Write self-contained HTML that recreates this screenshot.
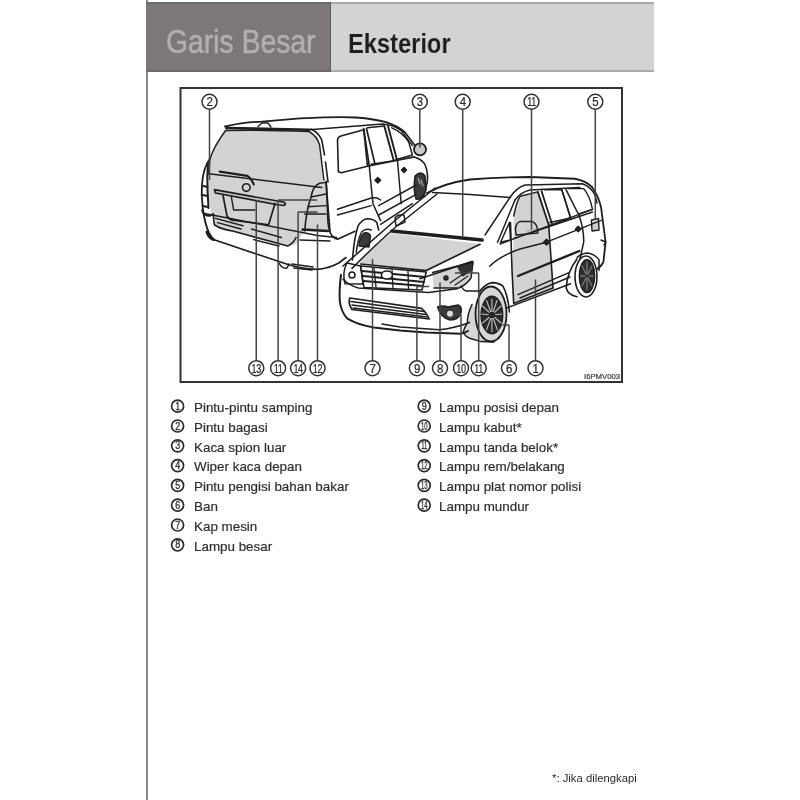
<!DOCTYPE html>
<html><head><meta charset="utf-8">
<style>
html,body{-webkit-font-smoothing:antialiased;margin:0;padding:0;background:#fff;width:800px;height:800px;overflow:hidden;font-family:"Liberation Sans",sans-serif;}
#pl{position:absolute;left:146px;top:0;width:2px;height:800px;background:#8c8c8c;}
#hd1{position:absolute;left:146px;top:2px;width:185px;height:70px;background:#7c7779;box-sizing:border-box;border-top:2px solid #6c6a6a;border-bottom:2px solid #6c6a6a;border-right:1px solid #5f5d5d;}
#hd2{position:absolute;left:331px;top:2px;width:323px;height:70px;background:#d3d3d3;box-sizing:border-box;border-top:2px solid #a9a9a9;border-bottom:2px solid #ababab;}
.t{position:absolute;white-space:nowrap;line-height:1;will-change:transform;}
#gb{left:166px;top:25px;font-size:33.8px;color:#b3afb0;transform-origin:0 0;transform:scaleX(0.838);-webkit-text-stroke:0.6px #b3afb0;}
#ek{left:348px;top:28.7px;font-size:28.5px;font-weight:bold;color:#1e1e1e;transform-origin:0 0;transform:scaleX(0.83);}
#svg{position:absolute;left:0;top:0;}
.li{will-change:transform;position:absolute;font-size:13.4px;color:#2e2e2e;-webkit-text-stroke:0.2px #2e2e2e;white-space:nowrap;line-height:1;}
#ft{left:552px;top:772.5px;font-size:11.3px;color:#2a2a2a;}
</style></head><body>
<div id="pl"></div>
<div id="hd1"></div>
<div id="hd2"></div>
<div class="t" id="gb">Garis Besar</div>
<div class="t" id="ek">Eksterior</div>
<svg id="svg" width="800" height="800" viewBox="0 0 800 800">
<rect x="180.5" y="88" width="441.5" height="294" fill="none" stroke="#333" stroke-width="2"/>
<g id="car" fill="none" stroke="#1e1e1e" stroke-width="1.45" stroke-linejoin="round" stroke-linecap="round">
<!-- fills -->
<g id="fills" stroke="none" fill="#d3d3d3">
<path d="M226 130 L309 131.5 Q318 137 320 150 L323.5 181 L319 183 Q313 188 310 197 L304.5 231 L296 244 L288 246 L232 231 Q216 228 214 223 L211 212 L208 190 L209.5 174 L210.5 159 Q216 143 226 130 Z"/>
<path d="M311 197 Q313 186 319.6 183.3 L327.5 182.25 L330 232 L303 231 Q306 212 311 197 Z"/>
<path d="M391.5 233 L480 244 L427 271.5 Q400 267 362 264 L358 262 Q372 247 391.5 233 Z"/>
<path d="M513.7 216 Q518 200 522 196.5 L537.8 191.9 L548.7 224.7 L513.7 235.6 Z"/>
<path d="M513.7 235.6 L548.7 225 L553 288 L513.7 303.4 L512 270 Z"/>
<path d="M432 272.5 Q450 268 473 262 L471 278 Q466 285 459 288 L434 288 Z"/>
<path d="M472 304.5 Q467 315 467.5 322.5 Q464 328 463 332.6 Q466 337 469.7 338.25 L481 341.6 L494 342 L478 310 Z" fill="#d6d6d6"/>
<ellipse cx="491" cy="314" rx="15.5" ry="27.5" fill="#d8d8d8"/>
<path d="M591.4 220 L598.5 218.5 L599 230 L592 231 Z" fill="#cfcfcf"/>
<circle cx="420" cy="149.4" r="6" fill="#c9c9c9" stroke="#1e1e1e" stroke-width="1.8"/>
<path d="M526 229.5 L536.5 228 L537 232.5 L526 233 Z" fill="#bcbcbc"/>
</g>
<!-- rear car lines -->
<g id="rc">
<path d="M225 126.5 Q245 122 262 121.7 L300 118.4 Q340 116.5 356 117.5 Q375 119 386 122.2 Q398 126 405 132.5 L414.3 144.7" stroke-width="1.8"/>
<path d="M309.4 129.7 L382.5 124 Q394 125 401.2 130.6 L412.4 145.6"/>
<path d="M226.5 128 L309 129.8" stroke-width="2.6"/><path d="M258 126.5 L262 123 L268 123 L271 127" stroke-width="1.4"/>
<path d="M226 130.5 Q260 129.5 309 131.5"/>
<path d="M226 130 Q214 146 210 159 L208.5 174"/>
<path d="M210 158.5 Q203 168 202 185 L201.7 195 L203 210 Q205 224 209 233 L213.4 239.6" stroke-width="1.8"/>
<path d="M208 162 Q207 175 207.5 190 L208.5 208" stroke-width="2"/>
<path d="M203 186 L207.5 187 M202.5 195 L207.5 196 M202.5 206 L208 207" stroke-width="1.8"/><path d="M202 210 Q203 216 210 216 L213 214" stroke-width="1.6"/>
<path d="M209 173.75 L321.75 187.5" stroke-width="1.5"/>
<path d="M219.75 171.6 L247.4 175.9 Q251 178 253.75 184.4" stroke-width="2.2"/>
<circle cx="246.3" cy="187.6" r="3.8" stroke-width="1.6"/>
<path d="M311 129 Q319 133 321.75 140 L324.5 155 M325.5 162 L328 182" stroke-width="1.6"/>
<path d="M309 131.5 Q317 136 319.6 145 L323.9 180"/>
<path d="M304.75 231 Q306 212 311 197 Q313 186 319.6 183.3 L326 182.25 L330 231" stroke-width="1.6"/>
<path d="M311 197 L326 194 M308 206.7 L326 205.6 M304.75 214 L326 214"/>
<path d="M302.6 229.5 L328 231" stroke-width="2.4"/>
<path d="M214.4 189.7 L283.5 202 Q287 203.5 284 205.5 L278.5 205 L215.5 193 Z" stroke-width="1.7" fill="#bfbfbf"/>
<path d="M223 195.5 L227 216 Q229 220 234.6 220.5 L268.6 224.75 L275 203.5" stroke-width="1.7"/>
<path d="M231.4 197 L233.6 210 L254.8 210"/>
<path d="M213.4 214 Q213.5 221 214.4 224.75 Q220 229 232.5 231 L287.75 246 Q293 244 296 237.5" stroke-width="1.6"/>
<path d="M215.5 218.4 L243 225.8 M217.6 222.6 L241 229 M251.6 229 L281.4 237.5 M253.75 239.6 L279 246"/>
<path d="M202.75 212 Q204 214 207 214 L317.5 235.4 L336.6 237.5" stroke-width="1.5"/>
<path d="M213.4 239.6 L283.5 263 Q300 269 317.5 269.4 Q330 268 338.75 263 L346 257.5" stroke-width="1.6"/>
<path d="M326.2 181.2 L328 222.4 Q329 232 331.9 235.6 Q334 238 337.5 239.3 L355 231.25" stroke-width="1.6"/>
<path d="M300 240 L330 241"/>
<path d="M207 232 Q209 238 213.5 239.5" stroke-width="3"/>
<path d="M279 263 Q282 269 287 268 L289 264" stroke-width="1.5"/>
<path d="M292 264 L313 267 M294 268 L312 270" stroke-width="1.7"/>
<!-- side -->
<path d="M338.4 171.8 L337.5 140 Q338 136.5 341 136 L363.7 129.7 L367.5 166.2 L341.2 172.8 Z" stroke-width="1.6"/>
<path d="M363.7 128.7 L369.3 166.2 M366.5 128.7 L375 164.3" stroke-width="1.7"/>
<path d="M367.5 127.8 L384.3 126 M371.2 164.3 L393.7 160.6"/>
<path d="M384.3 126 L393.7 160.6 M388 126 L397 160" stroke-width="1.9"/>
<path d="M391.8 127.8 Q402 132 408.7 141.9 L412.4 155 L395.6 159.7"/>
<path d="M367.5 166.2 L414.3 156.9" stroke-width="1.6"/>
<path d="M369.3 166.2 Q371 185 373 203.7 L380.6 220.6" stroke-width="1.5"/>
<path d="M397.5 160.6 L401.2 203.7"/>
<path d="M375 180.3 L377.8 177.5 L380.6 180.3 L377.8 183.1 Z M401.5 170 L404 167.5 L406.5 170 L404 172.5 Z" fill="#222"/>
<path d="M414.3 156.9 Q424 160 425.6 166.2 Q428 172 427.4 181.2 L423.7 196.2" stroke-width="1.6"/>
<path d="M415 176 Q421 170 425 176 L426 190 Q422 201 416 199 Q413 190 415 176 Z" fill="#3a3a3a"/><path d="M418 178 L420 184 M421 180 L423 186" stroke="#aaa" stroke-width="1.2"/>
<path d="M337.5 209.3 L371.2 198 Q377 197 380.6 200 M337.5 215 L371.2 205.6"/>
<path d="M378.7 205.6 L416.2 185 M378.7 215 L416.2 194.3 M380.6 224.3 L412.4 203.7" stroke-width="1.5"/>
<path d="M352.5 260 Q354 238 358 226.2 Q362 219 367.5 218.7 Q374 219 376.8 222.4 L378.7 230" stroke-width="1.6"/>
<path d="M356.2 252.4 Q358 238 361.8 231.8 Q366 228 371.2 230"/>
<path d="M359 246 Q360 236 364 233 Q369 232 370.5 236 L369 247 Z" fill="#3a3a3a"/>
</g>
<!-- front car lines -->
<g id="fc">
<path d="M427 193 Q445 183 470 179.5 Q500 177 530 177 L575 178.75 Q586 181 592 187 Q598 195 601 207 L605.6 242 L603.4 262 Q600 269 592.5 270.6" stroke-width="1.8"/>
<path d="M432.5 192.5 L470 194.5 L510 197.5" stroke-width="1.5"/>
<path d="M510 197.5 Q516 188 525 185 L582.5 183.75 Q591 187 595 195 L597 203" stroke-width="1.5"/><path d="M515 200 Q521 192 530 190 L580 187.5"/>
<path d="M510 197.5 L485 235 M515 200 L497.5 242.5" stroke-width="1.5"/>
<path d="M392 231 L482 240" stroke-width="3.6"/>
<path d="M343 266 Q368 244 395.6 220 L435 188" stroke-width="1.6"/>
<path d="M352 268.4 Q372 248 395.6 227 L437 194" stroke-width="1.5"/>
<path d="M395 218 Q398 214 404 215 L405 222 L396 226 Z"/>
<path d="M513.7 216 Q517 200 520.3 196.2 L537.8 191.9"/>
<path d="M537.8 191.9 L548.7 224.7 M541.5 191 L552 224" stroke-width="1.8"/>
<path d="M500.6 242.2 L509.4 222.5 L510.5 240 Z"/>
<path d="M516 234 Q514 224 520 221.4 L532 221.4 Q538 224 537.8 233 L516 235 Z" stroke-width="1.5"/>
<path d="M510.5 222.5 L512 270 L513.7 303.4 L553 288" stroke-width="1.6"/>
<path d="M548.7 224.7 L553 288" stroke-width="1.6"/>
<path d="M544.3 189.7 L561.8 189.7 L570.6 218 L549.8 222.5"/>
<path d="M561.8 189.7 L570.6 218 M566 189.7 L579.3 216" stroke-width="1.5"/>
<path d="M568.4 188.6 L583.7 188.6 Q590 196 592.5 209.4 L579.3 213.7"/>
<path d="M500 244 L592.5 209.4 M513.7 238.5 L592.5 212" stroke-width="1.4"/>
<path d="M489.7 266.2 Q500 256 520 249 L546.5 242.2 L601.2 220.3"/>
<path d="M579.3 216 Q584 230 583.7 242.2 L579.3 261.8" stroke-width="1.5"/>
<path d="M543.5 242.2 L546.5 239.4 L549.5 242.2 L546.5 245 Z M575.4 229 L578.2 226.2 L581 229 L578.2 231.8 Z" fill="#222"/>
<path d="M518 276 L579.3 251" stroke-width="2.4"/>
<path d="M518 294.6 L568.4 272.8 M520 298 L570 277"/>
<path d="M507.2 307.8 L570.6 283.7" stroke-width="1.5"/>
<path d="M591.4 220 L598.5 218.5 L599 230 L592 231 Z" stroke-width="1.4"/>
<path d="M601 240 L605.6 242 L604 245"/>
<path d="M577 257.5 Q582 253 588 253 Q596 255 599 259.7 L599 270.6" stroke-width="1.5"/>
<ellipse cx="586" cy="276.5" rx="11" ry="20.5" fill="#fff" stroke-width="1.6"/>
<ellipse cx="587" cy="276" rx="7.7" ry="16.4" fill="#2e2e2e"/><path d="M587 276 L587 262 M587 276 L592 266 M587 276 L593.5 276 M587 276 L592 286 M587 276 L587 290 M587 276 L582 286 M587 276 L580.5 276 M587 276 L582 266" stroke="#9a9a9a" stroke-width="0.9"/><circle cx="587" cy="276" r="1.8" fill="#2e2e2e" stroke="none"/>
<path d="M577 259 Q567 272 566.2 288 Q568 295 577 296.8" stroke-width="1.6"/>
<path d="M478.7 292.5 Q485 284 491.9 282.6 Q499 283 502.8 285.9 Q508 295 509.4 312" stroke-width="1.6"/>
<ellipse cx="491" cy="314" rx="15.5" ry="27.5" stroke-width="1.8"/>
<ellipse cx="491.9" cy="315" rx="10.8" ry="18.75" fill="#2a2a2a"/>
<g stroke="#bdbdbd" stroke-width="1.1">
<path d="M491.9 315 L491.9 299 M491.9 315 L497 300.5 M491.9 315 L501 306 M491.9 315 L502 314 M491.9 315 L501 323 M491.9 315 L497.5 330 M491.9 315 L491.9 332 M491.9 315 L486.5 330 M491.9 315 L482.5 323 M491.9 315 L481.5 314 M491.9 315 L482.5 306 M491.9 315 L486.5 300.5"/>
</g>
<circle cx="491.9" cy="315" r="2.5" fill="#2a2a2a"/>
<path d="M472 304.5 Q467 315 467.5 322.5 Q464 328 463 332.6 Q466 337 469.7 338.25 L481 341.6 L494 342" stroke-width="1.5"/>

<path d="M360.6 264 L426.2 270.6 L480 244.3" stroke-width="1.7"/>
<path d="M420 278.75 L472.5 261.25"/>
<path d="M345 283.7 Q342 272 347 263 L360.6 266 L363 284 Z" stroke-width="1.5"/>
<circle cx="352" cy="275" r="3"/>
<path d="M360.6 266 L426.2 272 L422 290 L364 287.5 Z" stroke-width="1.6"/>
<path d="M362 271 L425 277 M363 276 L424 282 M363.5 281 L423 286" stroke-width="1.9"/>
<path d="M374 268 L376 287 M392 270 L393 289 M408 271 L408.5 289" stroke-width="1.3"/>
<ellipse cx="386.9" cy="275" rx="5.5" ry="4" fill="#fff" stroke-width="1.6"/>
<path d="M341 275 Q339 290 339.8 301 Q341 312 347.5 318.7 Q358 325 373.7 327.4 L400 330.4 L425.9 332.6 L460.75 333.75 Q465 333 468 331" stroke-width="2"/>
<path d="M382 324 L400 327 L439.4 329.8 Q455 328 469.7 322.5" stroke-width="1.5"/>
<path d="M343 279.3 Q350 286 358.4 288 L428.4 292.5 L457.5 288.75"/>
<path d="M461 286 Q463 290 466 291 L480 291"/>
<path d="M349.7 298 L421.4 308.4 Q426 312 429.25 319 L352 309.5 Q348 304 349.7 298 Z" stroke-width="1.7"/>
<path d="M351 301.5 L424 311.5 M352 305 L426 314.5 M353 308 L427 317" stroke-width="1.4"/>

<path d="M437.5 307 Q443 305 448 307 L458 305 Q462 306 461.25 312 Q459 320 450 320 Q441 318 437.5 307 Z" fill="#3a3a3a" stroke-width="1.4"/>
<circle cx="450" cy="313.75" r="3" fill="#ddd" stroke="none"/>
<path d="M432.5 272.5 L473 262 L471 278 Q466 285 459 288 L434 288" stroke-width="1.5"/>
<path d="M458 267 L473 262.5 L472 270 L463 276 Z" fill="#333" stroke-width="1"/><path d="M450 283 L466 272 M455 285 L468 276" stroke-width="1.2"/>
<circle cx="446" cy="278" r="2" fill="#333"/>

</g>
</g>
<g id="callouts">
<path d="M209.5 109.25 L209.5 180 M419.8 109.25 L419.8 147.5 M462.7 109.25 L462.7 236 M531.5 109.25 L531.5 229.4 M595.3 109.25 L595.3 220 M256.25 360.7 L256.25 200 M278.1 360.7 L278.1 200 M278.1 200 L317 200 M298.1 360.7 L298.1 211.9 M298.1 211.9 L317.5 211.9 M317.5 360.7 L317.5 224.4 M372.5 360.7 L372.5 259 M416.9 360.7 L416.9 286.6 M416.9 286.6 L429.3 286.6 M440 360.7 L440 282.5 M461 360.7 L461 314.2 M461 314.2 L455.3 314.2 M478.7 360.7 L478.7 273 M478.7 273 L455 273 M509 360.7 L509 325 M509 325 L502.5 325 M535.5 360.7 L535.5 279.4" fill="none" stroke="#444" stroke-width="1.5"/>
<circle cx="209.5" cy="101.75" r="7.5" fill="#fff" stroke="#333" stroke-width="1.5"/>
<text x="0" y="0" transform="translate(209.5 106.45) scale(0.88 1)" text-anchor="middle" font-size="13" font-family="Liberation Sans" fill="#2a2a2a" stroke="#2a2a2a" stroke-width="0.25" letter-spacing="-0.5">2</text>
<circle cx="419.8" cy="101.75" r="7.5" fill="#fff" stroke="#333" stroke-width="1.5"/>
<text x="0" y="0" transform="translate(419.8 106.45) scale(0.88 1)" text-anchor="middle" font-size="13" font-family="Liberation Sans" fill="#2a2a2a" stroke="#2a2a2a" stroke-width="0.25" letter-spacing="-0.5">3</text>
<circle cx="462.7" cy="101.75" r="7.5" fill="#fff" stroke="#333" stroke-width="1.5"/>
<text x="0" y="0" transform="translate(462.7 106.45) scale(0.88 1)" text-anchor="middle" font-size="13" font-family="Liberation Sans" fill="#2a2a2a" stroke="#2a2a2a" stroke-width="0.25" letter-spacing="-0.5">4</text>
<circle cx="531.5" cy="101.75" r="7.5" fill="#fff" stroke="#333" stroke-width="1.5"/>
<text x="0" y="0" transform="translate(531.5 106.45) scale(0.7 1)" text-anchor="middle" font-size="13" font-family="Liberation Sans" fill="#2a2a2a" stroke="#2a2a2a" stroke-width="0.25" letter-spacing="-0.5">11</text>
<circle cx="595.3" cy="101.75" r="7.5" fill="#fff" stroke="#333" stroke-width="1.5"/>
<text x="0" y="0" transform="translate(595.3 106.45) scale(0.88 1)" text-anchor="middle" font-size="13" font-family="Liberation Sans" fill="#2a2a2a" stroke="#2a2a2a" stroke-width="0.25" letter-spacing="-0.5">5</text>
<circle cx="256.25" cy="368.2" r="7.5" fill="#fff" stroke="#333" stroke-width="1.5"/>
<text x="0" y="0" transform="translate(256.25 372.9) scale(0.7 1)" text-anchor="middle" font-size="13" font-family="Liberation Sans" fill="#2a2a2a" stroke="#2a2a2a" stroke-width="0.25" letter-spacing="-0.5">13</text>
<circle cx="278.1" cy="368.2" r="7.5" fill="#fff" stroke="#333" stroke-width="1.5"/>
<text x="0" y="0" transform="translate(278.1 372.9) scale(0.7 1)" text-anchor="middle" font-size="13" font-family="Liberation Sans" fill="#2a2a2a" stroke="#2a2a2a" stroke-width="0.25" letter-spacing="-0.5">11</text>
<circle cx="298.1" cy="368.2" r="7.5" fill="#fff" stroke="#333" stroke-width="1.5"/>
<text x="0" y="0" transform="translate(298.1 372.9) scale(0.7 1)" text-anchor="middle" font-size="13" font-family="Liberation Sans" fill="#2a2a2a" stroke="#2a2a2a" stroke-width="0.25" letter-spacing="-0.5">14</text>
<circle cx="317.5" cy="368.2" r="7.5" fill="#fff" stroke="#333" stroke-width="1.5"/>
<text x="0" y="0" transform="translate(317.5 372.9) scale(0.7 1)" text-anchor="middle" font-size="13" font-family="Liberation Sans" fill="#2a2a2a" stroke="#2a2a2a" stroke-width="0.25" letter-spacing="-0.5">12</text>
<circle cx="372.5" cy="368.2" r="7.5" fill="#fff" stroke="#333" stroke-width="1.5"/>
<text x="0" y="0" transform="translate(372.5 372.9) scale(0.88 1)" text-anchor="middle" font-size="13" font-family="Liberation Sans" fill="#2a2a2a" stroke="#2a2a2a" stroke-width="0.25" letter-spacing="-0.5">7</text>
<circle cx="416.9" cy="368.2" r="7.5" fill="#fff" stroke="#333" stroke-width="1.5"/>
<text x="0" y="0" transform="translate(416.9 372.9) scale(0.88 1)" text-anchor="middle" font-size="13" font-family="Liberation Sans" fill="#2a2a2a" stroke="#2a2a2a" stroke-width="0.25" letter-spacing="-0.5">9</text>
<circle cx="440" cy="368.2" r="7.5" fill="#fff" stroke="#333" stroke-width="1.5"/>
<text x="0" y="0" transform="translate(440 372.9) scale(0.88 1)" text-anchor="middle" font-size="13" font-family="Liberation Sans" fill="#2a2a2a" stroke="#2a2a2a" stroke-width="0.25" letter-spacing="-0.5">8</text>
<circle cx="461" cy="368.2" r="7.5" fill="#fff" stroke="#333" stroke-width="1.5"/>
<text x="0" y="0" transform="translate(461 372.9) scale(0.7 1)" text-anchor="middle" font-size="13" font-family="Liberation Sans" fill="#2a2a2a" stroke="#2a2a2a" stroke-width="0.25" letter-spacing="-0.5">10</text>
<circle cx="478.7" cy="368.2" r="7.5" fill="#fff" stroke="#333" stroke-width="1.5"/>
<text x="0" y="0" transform="translate(478.7 372.9) scale(0.7 1)" text-anchor="middle" font-size="13" font-family="Liberation Sans" fill="#2a2a2a" stroke="#2a2a2a" stroke-width="0.25" letter-spacing="-0.5">11</text>
<circle cx="509" cy="368.2" r="7.5" fill="#fff" stroke="#333" stroke-width="1.5"/>
<text x="0" y="0" transform="translate(509 372.9) scale(0.88 1)" text-anchor="middle" font-size="13" font-family="Liberation Sans" fill="#2a2a2a" stroke="#2a2a2a" stroke-width="0.25" letter-spacing="-0.5">6</text>
<circle cx="535.5" cy="368.2" r="7.5" fill="#fff" stroke="#333" stroke-width="1.5"/>
<text x="0" y="0" transform="translate(535.5 372.9) scale(0.88 1)" text-anchor="middle" font-size="13" font-family="Liberation Sans" fill="#2a2a2a" stroke="#2a2a2a" stroke-width="0.25" letter-spacing="-0.5">1</text>
</g>
<text transform="translate(584 378.6) scale(1.14 1)" font-size="6.8" font-family="Liberation Sans" fill="#444" stroke="#444" stroke-width="0.2">I6PMV003</text>
<g id="listc">
<circle cx="177.6" cy="406.2" r="6.0" fill="#fff" stroke="#2a2a2a" stroke-width="1.7"/>
<text transform="translate(177.6 409.8) scale(0.9 1)" text-anchor="middle" font-size="10" font-family="Liberation Sans" fill="#333" stroke="#333" stroke-width="0.3" letter-spacing="-0.3">1</text>
<circle cx="177.6" cy="426.0" r="6.0" fill="#fff" stroke="#2a2a2a" stroke-width="1.7"/>
<text transform="translate(177.6 429.6) scale(0.9 1)" text-anchor="middle" font-size="10" font-family="Liberation Sans" fill="#333" stroke="#333" stroke-width="0.3" letter-spacing="-0.3">2</text>
<circle cx="177.6" cy="445.8" r="6.0" fill="#fff" stroke="#2a2a2a" stroke-width="1.7"/>
<text transform="translate(177.6 449.40000000000003) scale(0.9 1)" text-anchor="middle" font-size="10" font-family="Liberation Sans" fill="#333" stroke="#333" stroke-width="0.3" letter-spacing="-0.3">3</text>
<circle cx="177.6" cy="465.6" r="6.0" fill="#fff" stroke="#2a2a2a" stroke-width="1.7"/>
<text transform="translate(177.6 469.20000000000005) scale(0.9 1)" text-anchor="middle" font-size="10" font-family="Liberation Sans" fill="#333" stroke="#333" stroke-width="0.3" letter-spacing="-0.3">4</text>
<circle cx="177.6" cy="485.4" r="6.0" fill="#fff" stroke="#2a2a2a" stroke-width="1.7"/>
<text transform="translate(177.6 489.0) scale(0.9 1)" text-anchor="middle" font-size="10" font-family="Liberation Sans" fill="#333" stroke="#333" stroke-width="0.3" letter-spacing="-0.3">5</text>
<circle cx="177.6" cy="505.2" r="6.0" fill="#fff" stroke="#2a2a2a" stroke-width="1.7"/>
<text transform="translate(177.6 508.8) scale(0.9 1)" text-anchor="middle" font-size="10" font-family="Liberation Sans" fill="#333" stroke="#333" stroke-width="0.3" letter-spacing="-0.3">6</text>
<circle cx="177.6" cy="525.0" r="6.0" fill="#fff" stroke="#2a2a2a" stroke-width="1.7"/>
<text transform="translate(177.6 528.6) scale(0.9 1)" text-anchor="middle" font-size="10" font-family="Liberation Sans" fill="#333" stroke="#333" stroke-width="0.3" letter-spacing="-0.3">7</text>
<circle cx="177.6" cy="544.8" r="6.0" fill="#fff" stroke="#2a2a2a" stroke-width="1.7"/>
<text transform="translate(177.6 548.4) scale(0.9 1)" text-anchor="middle" font-size="10" font-family="Liberation Sans" fill="#333" stroke="#333" stroke-width="0.3" letter-spacing="-0.3">8</text>
<circle cx="424.2" cy="406.2" r="6.0" fill="#fff" stroke="#2a2a2a" stroke-width="1.7"/>
<text transform="translate(424.2 409.8) scale(0.9 1)" text-anchor="middle" font-size="10" font-family="Liberation Sans" fill="#333" stroke="#333" stroke-width="0.3" letter-spacing="-0.3">9</text>
<circle cx="424.2" cy="426.0" r="6.0" fill="#fff" stroke="#2a2a2a" stroke-width="1.7"/>
<text transform="translate(424.2 429.6) scale(0.6 1)" text-anchor="middle" font-size="10" font-family="Liberation Sans" fill="#333" stroke="#333" stroke-width="0.3" letter-spacing="-0.3">10</text>
<circle cx="424.2" cy="445.8" r="6.0" fill="#fff" stroke="#2a2a2a" stroke-width="1.7"/>
<text transform="translate(424.2 449.40000000000003) scale(0.6 1)" text-anchor="middle" font-size="10" font-family="Liberation Sans" fill="#333" stroke="#333" stroke-width="0.3" letter-spacing="-0.3">11</text>
<circle cx="424.2" cy="465.6" r="6.0" fill="#fff" stroke="#2a2a2a" stroke-width="1.7"/>
<text transform="translate(424.2 469.20000000000005) scale(0.6 1)" text-anchor="middle" font-size="10" font-family="Liberation Sans" fill="#333" stroke="#333" stroke-width="0.3" letter-spacing="-0.3">12</text>
<circle cx="424.2" cy="485.4" r="6.0" fill="#fff" stroke="#2a2a2a" stroke-width="1.7"/>
<text transform="translate(424.2 489.0) scale(0.6 1)" text-anchor="middle" font-size="10" font-family="Liberation Sans" fill="#333" stroke="#333" stroke-width="0.3" letter-spacing="-0.3">13</text>
<circle cx="424.2" cy="505.2" r="6.0" fill="#fff" stroke="#2a2a2a" stroke-width="1.7"/>
<text transform="translate(424.2 508.8) scale(0.6 1)" text-anchor="middle" font-size="10" font-family="Liberation Sans" fill="#333" stroke="#333" stroke-width="0.3" letter-spacing="-0.3">14</text>
</g>
</svg>
<div class="li" style="left:194px;top:401.0px">Pintu-pintu samping</div>
<div class="li" style="left:194px;top:420.8px">Pintu bagasi</div>
<div class="li" style="left:194px;top:440.6px">Kaca spion luar</div>
<div class="li" style="left:194px;top:460.4px">Wiper kaca depan</div>
<div class="li" style="left:194px;top:480.2px">Pintu pengisi bahan bakar</div>
<div class="li" style="left:194px;top:500.0px">Ban</div>
<div class="li" style="left:194px;top:519.8px">Kap mesin</div>
<div class="li" style="left:194px;top:539.6px">Lampu besar</div>
<div class="li" style="left:439px;top:401.0px">Lampu posisi depan</div>
<div class="li" style="left:439px;top:420.8px">Lampu kabut*</div>
<div class="li" style="left:439px;top:440.6px">Lampu tanda belok*</div>
<div class="li" style="left:439px;top:460.4px">Lampu rem/belakang</div>
<div class="li" style="left:439px;top:480.2px">Lampu plat nomor polisi</div>
<div class="li" style="left:439px;top:500.0px">Lampu mundur</div>
<div class="t" id="ft">*: Jika dilengkapi</div>
</body></html>
